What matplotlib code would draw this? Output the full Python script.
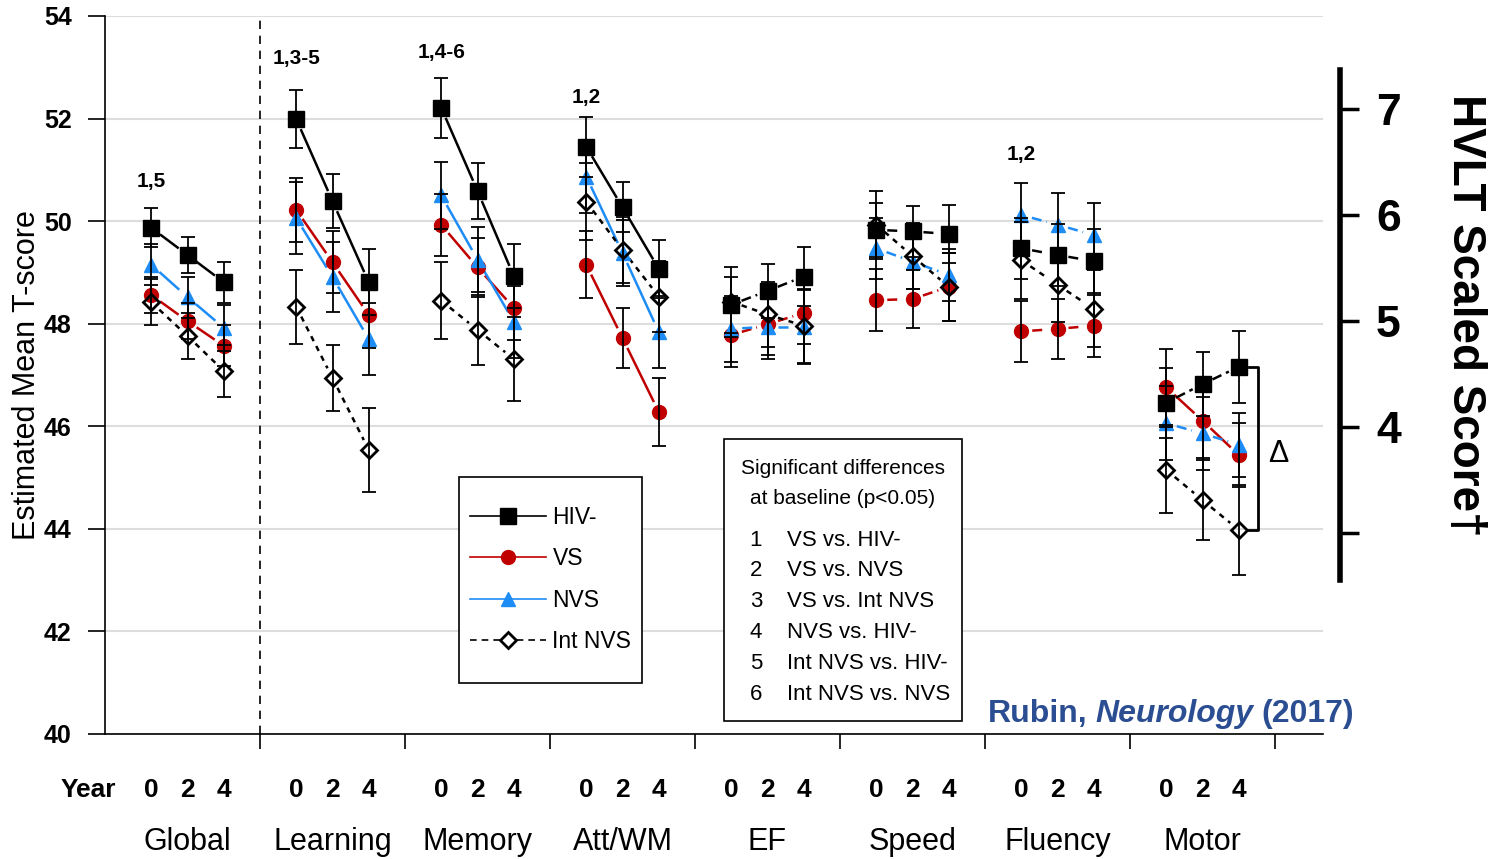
import numpy as np
import matplotlib
matplotlib.use("Agg")
import matplotlib.pyplot as plt
from matplotlib.lines import Line2D
from matplotlib.patches import Rectangle

plt.rcParams["font.family"] = ["Liberation Sans", "DejaVu Sans"]

domains = ["Global", "Learning", "Memory", "Att/WM", "EF", "Speed", "Fluency", "Motor"]
years = ["0", "2", "4"]
groups = ["HIV-", "VS", "NVS", "Int NVS"]

# estimated mean T-scores, 3 years per domain
hiv = [49.87, 49.34, 48.81, 51.99, 50.39, 48.81, 52.21, 50.59, 48.93, 51.45, 50.27, 49.07,
       48.37, 48.64, 48.92, 49.83, 49.80, 49.75, 49.47, 49.34, 49.22, 46.46, 46.82, 47.16]
vs = [48.56, 48.05, 47.57, 50.22, 49.20, 48.17, 49.93, 49.10, 48.31, 49.15, 47.72, 46.28,
      47.78, 47.99, 48.21, 48.46, 48.48, 48.72, 47.85, 47.90, 47.96, 46.76, 46.11, 45.44]
nvs = [49.15, 48.52, 47.92, 50.06, 48.91, 47.70, 50.50, 49.25, 48.04, 50.87, 49.38, 47.84,
       47.90, 47.94, 47.94, 49.47, 49.21, 48.95, 50.12, 49.93, 49.73, 46.06, 45.86, 45.64]
int_nvs = [48.42, 47.76, 47.08, 48.33, 46.94, 45.54, 48.45, 47.88, 47.31, 50.38, 49.44, 48.53,
           48.43, 48.18, 47.96, 49.93, 49.32, 48.72, 49.24, 48.76, 48.29, 45.15, 44.56, 43.98]

hiv_err = [0.38, 0.36, 0.40, 0.56, 0.53, 0.64, 0.58, 0.55, 0.62, 0.58, 0.49, 0.57,
           0.55, 0.53, 0.58, 0.53, 0.50, 0.57, 0.60, 0.60, 0.62, 0.68, 0.62, 0.70]
vs_err = [0.35, 0.35, 0.40, 0.62, 0.60, 0.65, 0.60, 0.58, 0.62, 0.65, 0.58, 0.67,
          0.62, 0.68, 0.60, 0.60, 0.57, 0.66, 0.59, 0.58, 0.60, 0.74, 0.72, 0.62]
nvs_err = [0.40, 0.40, 0.45, 0.70, 0.68, 0.70, 0.65, 0.63, 0.70, 0.72, 0.65, 0.70,
           0.64, 0.55, 0.72, 0.60, 0.53, 0.50, 0.62, 0.62, 0.62, 0.72, 0.72, 0.62]
int_err = [0.45, 0.45, 0.50, 0.72, 0.65, 0.82, 0.75, 0.68, 0.82, 0.75, 0.65, 0.70,
           0.68, 0.64, 0.72, 0.66, 0.64, 0.66, 0.75, 0.72, 0.75, 0.84, 0.78, 0.88]

# 1 = solid line (significant change), 0 = dashed
hiv_solid = [1, 1, 1, 1, 0, 0, 0, 0]
vs_solid = [1, 1, 1, 1, 0, 0, 0, 1]
nvs_solid = [1, 1, 1, 1, 0, 0, 0, 0]
int_solid = [0, 0, 0, 0, 0, 0, 0, 0]

sig_labels = ["1,5", "1,3-5", "1,4-6", "1,2", "", "", "1,2", ""]
sig_label_y = [50.78, 53.18, 53.28, 52.42, 0, 0, 51.29, 0]

sig_rows = [("1", "VS vs. HIV-"), ("2", "VS vs. NVS"), ("3", "VS vs. Int NVS"),
            ("4", "NVS vs. HIV-"), ("5", "Int NVS vs. HIV-"), ("6", "Int NVS vs. NVS")]

hvlt_ticks = [3, 4, 5, 6, 7]
hvlt_labels = ["", "4", "5", "6", "7"]

W, H = 1498, 859
fig = plt.figure(figsize=(W / 100, H / 100), dpi=100)
ax = fig.add_axes([105 / W, 1 - 734 / H, (1323 - 105) / W, (734 - 16) / H])
ax.set_xlim((105 - 115) / 145, (1323 - 115) / 145)
ax.set_ylim(40, 54)

RED = "#C00000"
BLUE = "#1E8CF5"


def gap_segment(x0, y0, x1, y1, gap=11):
    p = ax.transData.transform([(x0, y0), (x1, y1)])
    d = p[1] - p[0]
    u = d / np.hypot(*d)
    q = np.array([p[0] + u * gap, p[1] - u * gap])
    r = ax.transData.inverted().transform(q)
    return r[:, 0], r[:, 1]


xpos = [d + f for d in range(len(domains)) for f in (0.25, 0.5, 0.75)]

series = [
    (vs, vs_err, vs_solid, RED, dict(marker="o", ms=10, mfc=RED, mec=RED), (4, 2)),
    (nvs, nvs_err, nvs_solid, BLUE, dict(marker="^", ms=10, mfc=BLUE, mec=BLUE), (4, 2)),
    (hiv, hiv_err, hiv_solid, "black", dict(marker="s", ms=11, mfc="black", mec="black"), (4, 2)),
    (int_nvs, int_err, int_solid, "black", dict(marker="D", ms=8.5, mfc="none", mec="black", mew=2), (2.2, 2.2)),
]

for vals, err, solid, col, mk, dash in series:
    for d in range(len(domains)):
        for k in range(2):
            i = 3 * d + k
            sx, sy = gap_segment(xpos[i], vals[i], xpos[i + 1], vals[i + 1])
            if solid[d]:
                ax.plot(sx, sy, color=col, lw=1.8, zorder=3, solid_capstyle="butt")
            else:
                ax.plot(sx, sy, color=col, lw=1.8, dashes=dash, zorder=3, dash_capstyle="butt")
    ax.plot(xpos, vals, ls="none", zorder=4, **mk)
    ax.errorbar(xpos, vals, yerr=err, fmt="none", ecolor="black", elinewidth=1.3,
                capsize=5, capthick=1.3, zorder=5)

# separator after Global
ax.axvline(1, color="black", lw=1.2, ls=(0, (5, 4)), zorder=1)

# spines / ticks
for s in ["top", "right"]:
    ax.spines[s].set_visible(False)
for s in ["left", "bottom"]:
    ax.spines[s].set_linewidth(1.2)
ax.set_yticks(range(40, 55, 2))
ax.set_yticklabels([str(v) for v in range(40, 55, 2)], fontsize=18, fontweight="bold")
ax.tick_params(axis="y", direction="out", length=12, width=1.2, pad=12)
ax.set_xticks(range(1, len(domains) + 1))
ax.set_xticklabels([])
ax.tick_params(axis="x", direction="out", length=11, width=1.2)
ax.yaxis.grid(True, color="#DDDDDD", lw=1.5, zorder=0)
ax.set_axisbelow(True)
ax.set_ylabel("Estimated Mean T-score", fontsize=22)
ax.yaxis.set_label_coords(-0.052, 0.5)

# year / domain labels
xt = ax.get_xaxis_transform()
ax.text(-0.186, -0.078, "Year", transform=xt, ha="center", va="center",
        fontsize=19, fontweight="bold", clip_on=False)
for i, x in enumerate(xpos):
    ax.text(x, -0.078, years[i % 3], transform=xt, ha="center", va="center",
            fontsize=19, fontweight="bold", clip_on=False)
for d, name in enumerate(domains):
    ax.text(d + 0.5, -0.150, name, transform=xt, ha="center", va="center",
            fontsize=22, clip_on=False)

# significance labels
for d, lab in enumerate(sig_labels):
    if lab:
        ax.text(d + 0.25, sig_label_y[d], lab, ha="center", va="center",
                fontsize=15, fontweight="bold")

# delta bracket on Motor
bx = xpos[-1] + 0.13
top, bot = hiv[-1], int_nvs[-1]
ax.plot([bx - 0.06, bx, bx, bx - 0.06], [top, top, bot, bot], color="black", lw=2, zorder=3)
ax.text(bx + 0.14, (top + bot) / 2 - 0.12, "Δ", ha="center", va="center", fontsize=22)

# legend: frame drawn as a separate box
fig.patches.append(Rectangle((459 / W, 1 - 683 / H), (642 - 459) / W, (683 - 477) / H,
                             transform=fig.transFigure, facecolor="white",
                             edgecolor="black", lw=1.2, zorder=1))
handles = [
    Line2D([], [], color="black", lw=1.2, marker="s", ms=11, mfc="black", mec="black"),
    Line2D([], [], color=RED, lw=1.2, marker="o", ms=10, mfc=RED, mec=RED),
    Line2D([], [], color=BLUE, lw=1.2, marker="^", ms=10, mfc=BLUE, mec=BLUE),
    Line2D([], [], color="black", lw=1.2, ls=(0, (4, 3)), marker="D", ms=8.5,
           mfc="white", mec="black", mew=2),
]
leg = fig.legend(handles, groups, loc="upper left", bbox_to_anchor=(470 / W, 1 - 506 / H),
                 borderaxespad=0, borderpad=0, fontsize=16.5, handlelength=3.3,
                 handletextpad=0.3, labelspacing=0.8, frameon=False)
leg.set_zorder(2)

# significance box
fig.patches.append(Rectangle((724 / W, 1 - 721 / H), (962 - 724) / W, (721 - 439) / H,
                             transform=fig.transFigure, facecolor="white",
                             edgecolor="black", lw=1.2, zorder=1))
fig.text(843 / W, 1 - 468 / H, "Significant differences", ha="center", va="center", fontsize=15)
fig.text(843 / W, 1 - 498 / H, "at baseline (p<0.05)", ha="center", va="center", fontsize=15)
for k, (num, txt) in enumerate(sig_rows):
    yy = 1 - (540 + 30.8 * k) / H
    fig.text(756 / W, yy, num, ha="center", va="center", fontsize=16)
    fig.text(787 / W, yy, txt, ha="left", va="center", fontsize=16)

# right HVLT axis
ax2 = fig.add_axes([1340 / W - 0.0001, 1 - 580 / H, 0.0001, 510 / H])
ax2.set_ylim(3 - (580 - 533) / 106, 7 + (109 - 70) / 106)
for s in ["top", "bottom", "left"]:
    ax2.spines[s].set_visible(False)
ax2.spines["right"].set_linewidth(4)
ax2.set_xticks([])
ax2.yaxis.tick_right()
ax2.set_yticks(hvlt_ticks)
ax2.set_yticklabels(hvlt_labels, fontsize=32, fontweight="bold")
ax2.tick_params(axis="y", direction="out", length=14, width=2.5, pad=12)
ax2.patch.set_visible(False)
fig.text(1465 / W, 1 - 315 / H, "HVLT Scaled Score\u2020", rotation=-90, ha="center",
         va="center", fontsize=33, fontweight="bold")

# citation
BLUE_TXT = "#2B4E93"
fig.canvas.draw()
r = fig.canvas.get_renderer()
t1 = fig.text(988 / W, 1 - 722 / H, "Rubin,", fontsize=23, fontweight="bold",
              color=BLUE_TXT, va="baseline")
x1 = t1.get_window_extent(r).x1 + 8
t2 = fig.text(x1 / W, 1 - 722 / H, "Neurology", fontsize=23, fontweight="bold",
              fontstyle="italic", color=BLUE_TXT, va="baseline")
x2 = t2.get_window_extent(r).x1 + 8
fig.text(x2 / W, 1 - 722 / H, "(2017)", fontsize=23, fontweight="bold",
         color=BLUE_TXT, va="baseline")

fig.savefig("out.png", dpi=100)
